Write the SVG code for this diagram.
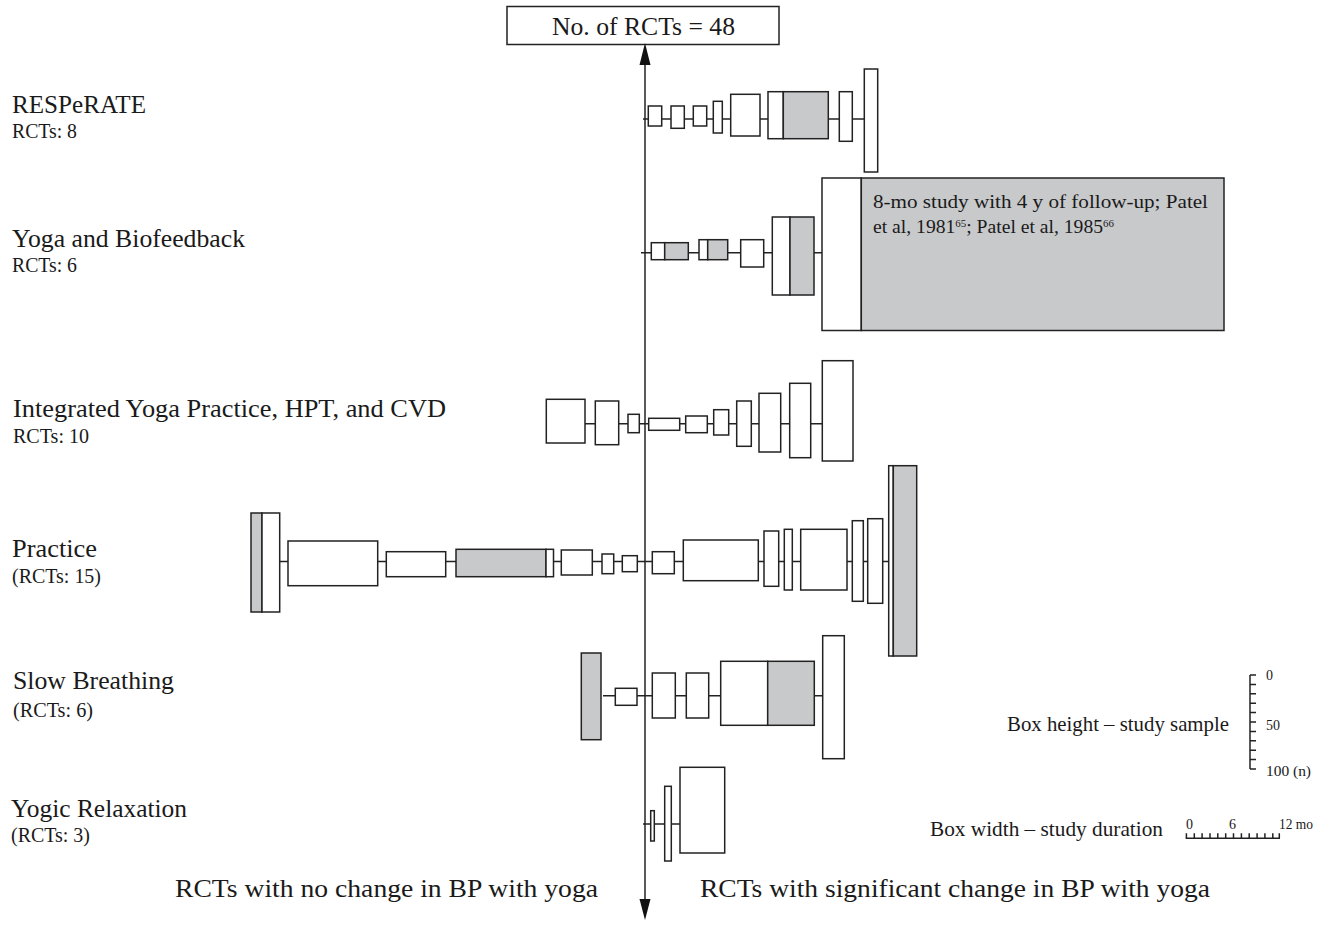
<svg xmlns="http://www.w3.org/2000/svg" width="1335" height="929" viewBox="0 0 1335 929">
<style>
text{font-family:"Liberation Serif","DejaVu Serif",serif;fill:#1a1a1a}
.w{fill:#fff;stroke:#222;stroke-width:1.5}
.g{fill:#c8c9cb;stroke:#222;stroke-width:1.5}
.ln{stroke:#222;stroke-width:1.5;fill:none}
.lab{font-size:25px}
.sub{font-size:20px}
.bot{font-size:25px}
.leg{font-size:21px}
.tk{font-size:14px}
.ah{fill:#111}
</style>
<rect width="1335" height="929" fill="#fff"/>

<g id="title">
<rect x="507" y="6.5" width="272" height="38" fill="#fff" stroke="#222" stroke-width="1.5"/>
<text x="552" y="35" font-size="25" textLength="183" lengthAdjust="spacingAndGlyphs">No. of RCTs = 48</text>
</g>

<g id="connectors">
<line class="ln" x1="645" y1="55" x2="645" y2="910"/>
<path class="ah" d="M645,43 L650.5,65 L639.5,65 Z"/>
<path class="ah" d="M645,920 L650.5,899 L639.5,899 Z"/>
<line class="ln" x1="643" y1="119" x2="865" y2="119"/>
<line class="ln" x1="641" y1="252.7" x2="822" y2="252.7"/>
<line class="ln" x1="583" y1="423.7" x2="822" y2="423.7"/>
<line class="ln" x1="280" y1="561.5" x2="889" y2="561.5"/>
<line class="ln" x1="603" y1="695.7" x2="823" y2="695.7"/>
<line class="ln" x1="643" y1="824" x2="680" y2="824"/>
</g>

<g id="labels">
<text class="lab" x="12" y="113" textLength="134" lengthAdjust="spacingAndGlyphs">RESPeRATE</text>
<text class="sub" x="12" y="138" textLength="65" lengthAdjust="spacingAndGlyphs">RCTs: 8</text>
<text class="lab" x="12" y="247" textLength="233" lengthAdjust="spacingAndGlyphs">Yoga and Biofeedback</text>
<text class="sub" x="12" y="272" textLength="65" lengthAdjust="spacingAndGlyphs">RCTs: 6</text>
<text class="lab" x="13" y="417" textLength="433" lengthAdjust="spacingAndGlyphs">Integrated Yoga Practice, HPT, and CVD</text>
<text class="sub" x="13" y="443" textLength="76" lengthAdjust="spacingAndGlyphs">RCTs: 10</text>
<text class="lab" x="12" y="557" textLength="85" lengthAdjust="spacingAndGlyphs">Practice</text>
<text class="sub" x="12" y="583" textLength="89" lengthAdjust="spacingAndGlyphs">(RCTs: 15)</text>
<text class="lab" x="13" y="689" textLength="161" lengthAdjust="spacingAndGlyphs">Slow Breathing</text>
<text class="sub" x="13" y="717" textLength="80" lengthAdjust="spacingAndGlyphs">(RCTs: 6)</text>
<text class="lab" x="11" y="817" textLength="176" lengthAdjust="spacingAndGlyphs">Yogic Relaxation</text>
<text class="sub" x="11" y="842" textLength="79" lengthAdjust="spacingAndGlyphs">(RCTs: 3)</text>
</g>

<g id="row-resperate">
<rect class="w" x="648.3" y="106" width="13.4" height="20"/>
<rect class="w" x="671" y="106" width="13.3" height="22.3"/>
<rect class="w" x="693.3" y="106" width="13.4" height="20"/>
<rect class="w" x="713.3" y="101.3" width="9" height="31.7"/>
<rect class="w" x="730.7" y="94.3" width="29.3" height="41.7"/>
<rect class="w" x="768" y="91.7" width="15.3" height="47"/>
<rect class="g" x="783.3" y="91.7" width="45" height="47"/>
<rect class="w" x="839.3" y="91.7" width="13" height="49.6"/>
<rect class="w" x="864.3" y="69" width="13.4" height="103"/>
</g>

<g id="row-yoga-biofeedback">
<rect class="w" x="651.3" y="242.7" width="13.4" height="17"/>
<rect class="g" x="664.7" y="242.7" width="23.6" height="17"/>
<rect class="w" x="699" y="239.7" width="8.7" height="20"/>
<rect class="g" x="707.7" y="239.7" width="20" height="20"/>
<rect class="w" x="740.7" y="239.7" width="23" height="27.3"/>
<rect class="w" x="772.3" y="217" width="17.7" height="78"/>
<rect class="g" x="790" y="217" width="24" height="78"/>
<rect class="w" x="822" y="178" width="39.3" height="152.5"/>
<rect class="g" x="861.3" y="178" width="362.7" height="152.5"/>
<text x="873" y="208" font-size="18" textLength="335" lengthAdjust="spacingAndGlyphs">8-mo study with 4 y of follow-up; Patel</text>
<text x="873" y="233" font-size="18" textLength="241" lengthAdjust="spacingAndGlyphs">et al, 1981<tspan font-size="10" dy="-6">65</tspan><tspan dy="6">; Patel et al, 1985</tspan><tspan font-size="10" dy="-6">66</tspan></text>
</g>

<g id="row-integrated">
<rect class="w" x="546.3" y="399.3" width="38.7" height="43.7"/>
<rect class="w" x="595.3" y="401" width="23.4" height="43.7"/>
<rect class="w" x="628" y="414.3" width="11.3" height="18.4"/>
<rect class="w" x="648.7" y="418.3" width="31" height="12"/>
<rect class="w" x="685.7" y="416" width="21.6" height="16.7"/>
<rect class="w" x="713.7" y="409.7" width="15" height="25.3"/>
<rect class="w" x="736.7" y="401" width="14.6" height="45.3"/>
<rect class="w" x="759" y="393.3" width="21.7" height="58.7"/>
<rect class="w" x="789.7" y="383.3" width="21" height="74.4"/>
<rect class="w" x="822.3" y="360.7" width="30.7" height="100.3"/>
</g>

<g id="row-practice">
<rect class="g" x="251" y="513" width="11" height="99"/>
<rect class="w" x="262" y="513" width="17.7" height="99"/>
<rect class="w" x="288" y="541" width="89.7" height="44.7"/>
<rect class="w" x="386.3" y="551.7" width="59.4" height="25"/>
<rect class="g" x="456" y="549.3" width="90" height="27.4"/>
<rect class="w" x="546" y="549.3" width="7.5" height="27.4"/>
<rect class="w" x="561.3" y="550" width="31" height="25"/>
<rect class="w" x="602" y="554" width="11.7" height="19.7"/>
<rect class="w" x="622.3" y="555.7" width="15" height="16"/>
<rect class="w" x="652.3" y="551.7" width="22" height="22"/>
<rect class="w" x="683.3" y="540" width="75" height="40.7"/>
<rect class="w" x="764" y="531" width="14.7" height="55.3"/>
<rect class="w" x="784.3" y="529.3" width="8" height="60.7"/>
<rect class="w" x="800.7" y="529.3" width="46.3" height="60.7"/>
<rect class="w" x="852.3" y="520.7" width="11" height="80.6"/>
<rect class="w" x="867.7" y="518.7" width="15" height="84.6"/>
<rect class="w" x="888.7" y="465.7" width="4.6" height="190.3"/>
<rect class="g" x="893.3" y="465.7" width="23.4" height="190.3"/>
</g>

<g id="row-slow-breathing">
<rect class="g" x="581.3" y="653" width="19.7" height="86.7"/>
<rect class="w" x="615.3" y="688.3" width="21.7" height="17"/>
<rect class="w" x="652.3" y="673" width="23" height="45"/>
<rect class="w" x="686.3" y="673" width="22.4" height="45"/>
<rect class="w" x="720.7" y="661.3" width="47" height="64"/>
<rect class="g" x="767.7" y="661.3" width="46.6" height="64"/>
<rect class="w" x="822.7" y="635.7" width="21.6" height="123"/>
</g>

<g id="row-yogic-relaxation">
<rect class="w" x="650.7" y="810.7" width="3.6" height="30.3"/>
<rect class="w" x="664.7" y="786.3" width="6.6" height="74.7"/>
<rect class="w" x="680" y="767.3" width="44.7" height="85.7"/>
</g>

<g id="bottom-labels">
<text class="bot" x="175" y="897" textLength="423" lengthAdjust="spacingAndGlyphs">RCTs with no change in BP with yoga</text>
<text class="bot" x="700" y="897" textLength="510" lengthAdjust="spacingAndGlyphs">RCTs with significant change in BP with yoga</text>
</g>

<g id="legend-height">
<text class="leg" x="1007" y="731" textLength="222" lengthAdjust="spacingAndGlyphs">Box height – study sample</text>
<line class="ln" x1="1250" y1="675" x2="1250" y2="769"/>
<path class="ln" d="M1250,675h6M1250,684.4h6M1250,693.8h6M1250,703.2h6M1250,712.6h6M1250,722h6M1250,731.4h6M1250,740.8h6M1250,750.2h6M1250,759.6h6M1250,769h6"/>
<text class="tk" x="1266" y="680">0</text>
<text class="tk" x="1266" y="730">50</text>
<text class="tk" x="1266" y="776" textLength="45" lengthAdjust="spacingAndGlyphs">100 (n)</text>
</g>

<g id="legend-width">
<text class="leg" x="930" y="836" textLength="233" lengthAdjust="spacingAndGlyphs">Box width – study duration</text>
<line class="ln" x1="1185.7" y1="838.3" x2="1280" y2="838.3"/>
<path class="ln" d="M1186.4,838.3v-5M1194.3,838.3v-5M1202.1,838.3v-5M1210,838.3v-5M1217.8,838.3v-5M1225.7,838.3v-5M1233.5,838.3v-5M1241.4,838.3v-5M1249.2,838.3v-5M1257.1,838.3v-5M1264.9,838.3v-5M1272.8,838.3v-5M1279.3,838.3v-5"/>
<text class="tk" x="1186" y="829">0</text>
<text class="tk" x="1232.5" y="829" text-anchor="middle">6</text>
<text class="tk" x="1279" y="829" textLength="34" lengthAdjust="spacingAndGlyphs">12 mo</text>
</g>
</svg>
